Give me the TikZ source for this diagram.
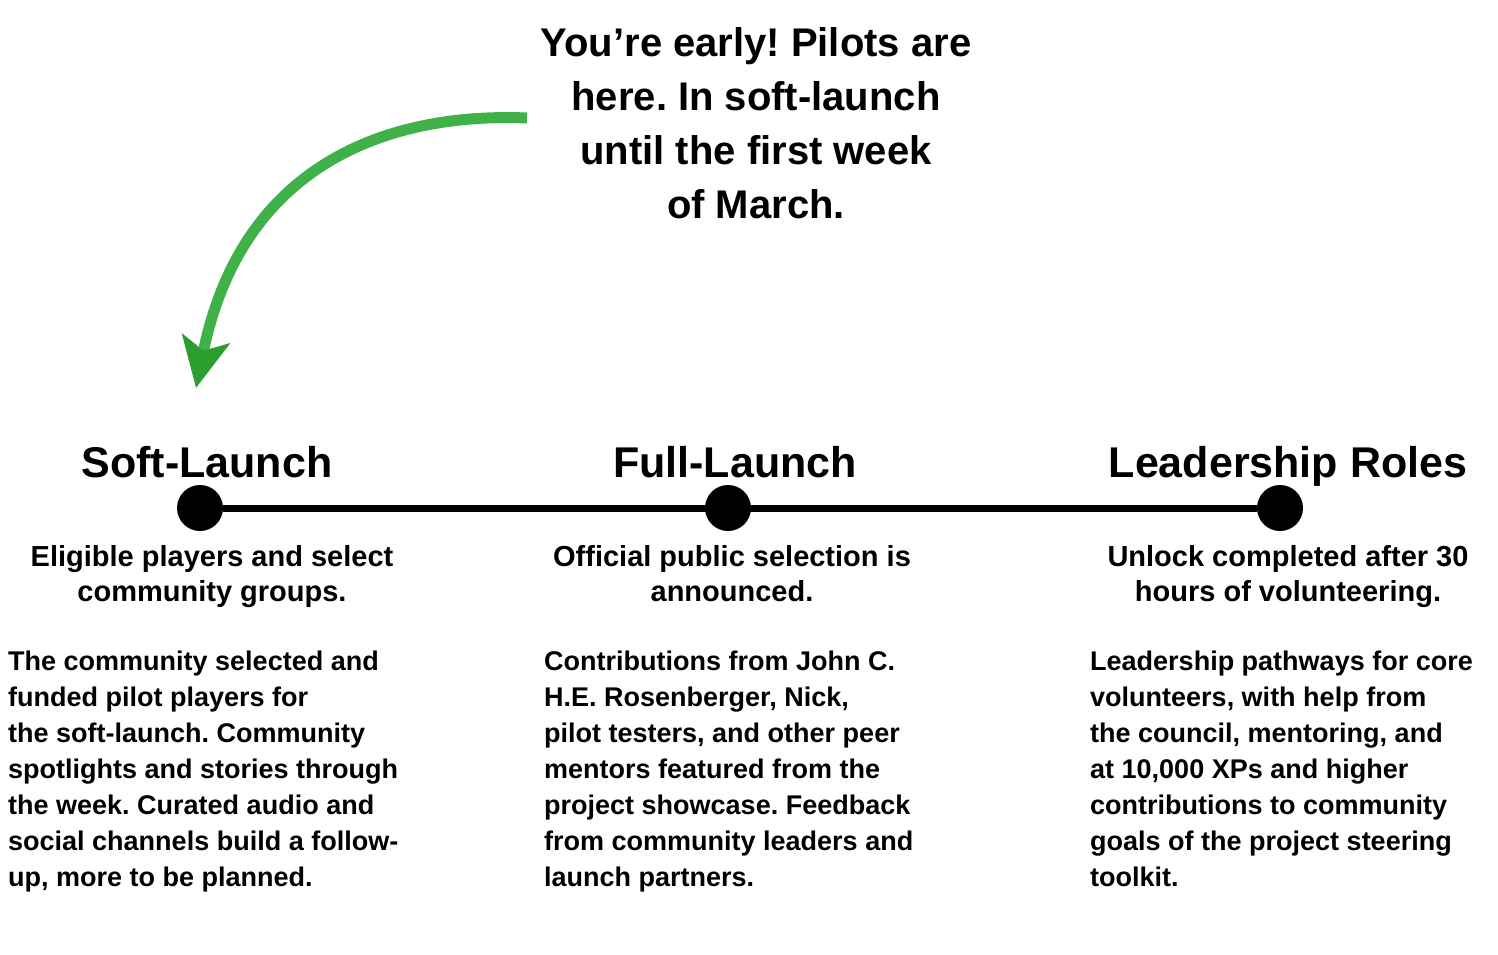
\documentclass[tikz,border=0pt]{standalone}
\usepackage{fontspec}
\setmainfont{Liberation Sans}
\usetikzlibrary{arrows.meta, positioning}
\frenchspacing

\definecolor{arrowgreen}{RGB}{64,176,72}
\definecolor{arrowdark}{RGB}{42,158,46}

\tikzset{
  milestone/.style={circle, fill=black, minimum size=46pt, inner sep=0pt},
  heading/.style={font=\fontsize{43}{50}\selectfont\bfseries, anchor=base, inner sep=0pt},
  subline/.style={font=\fontsize{29}{35}\selectfont\bfseries, align=center, anchor=north, inner sep=0pt},
  bodytext/.style={font=\fontsize{27}{36}\selectfont\bfseries, align=left, anchor=north west, inner sep=0pt},
}

\begin{document}
\begin{tikzpicture}[x=1pt, y=-1pt]
  \useasboundingbox (0,0) rectangle (1498,954);

  % teaser on top
  \node[font=\fontsize{40}{54}\selectfont\bfseries, align=center, anchor=north, inner sep=0pt]
    (teaser) at (756,27) {You're early! Pilots are\\here. In soft-launch\\until the first week\\of March.};
  \coordinate (arrowstart) at (527,118);
  \coordinate (arrowtip) at (196,388);
  \draw[arrowgreen, line width=11pt,
    -{Stealth[length=50pt, width=48pt, inset=12pt, color=arrowdark]}]
    (arrowstart) .. controls (380,112) and (240,170) .. (arrowtip);

  % timeline
  \node[milestone] (soft) at (200,508) {};
  \node[milestone] (full) at (728,508) {};
  \node[milestone] (lead) at (1280,508) {};
  \draw[line width=7pt] (soft) -- (lead);

  \node[heading] (softtitle) at (207,477) {Soft-Launch};
  \node[heading] (fulltitle) at (735,477) {Full-Launch};
  \node[heading] (leadtitle) at (1288,477) {Leadership Roles};

  \node[subline] (softsub) at (212,545) {Eligible players and select\\community groups.};
  \node[subline] (fullsub) at (732,545) {Official public selection is\\announced.};
  \node[subline] (leadsub) at (1288,545) {Unlock completed after 30\\hours of volunteering.};

  % details per column
  \node[bodytext] (softbody) at (8,651) {The community selected and\\funded pilot players for\\the soft-launch. Community\\spotlights and stories through\\the week. Curated audio and\\social channels build a follow-\\up, more to be planned.};
  \node[bodytext] (fullbody) at (544,651) {Contributions from John C.\\H.E. Rosenberger, Nick,\\pilot testers, and other peer\\mentors featured from the\\project showcase. Feedback\\from community leaders and\\launch partners.};
  \node[bodytext] (leadbody) at (1090,651) {Leadership pathways for core\\volunteers, with help from\\the council, mentoring, and\\at 10,000 XPs and higher\\contributions to community\\goals of the project steering\\toolkit.};
\end{tikzpicture}
\end{document}
